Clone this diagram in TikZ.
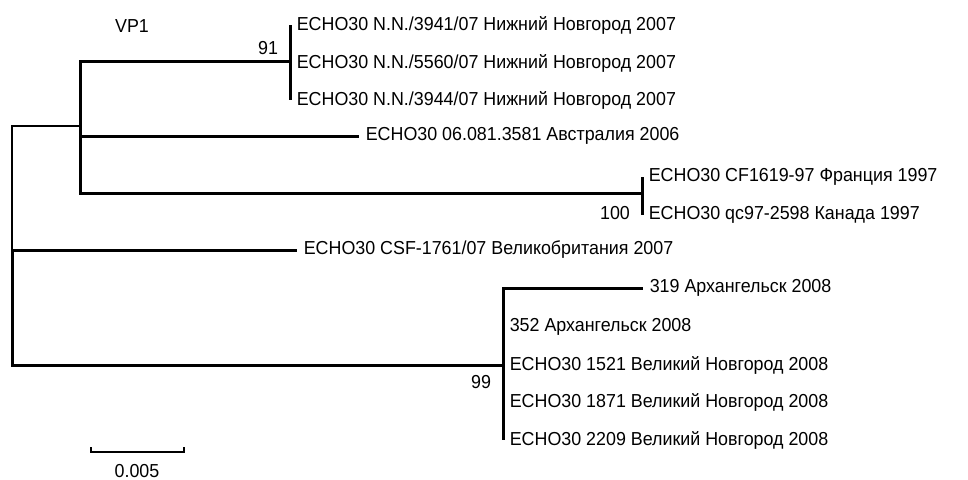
\documentclass[tikz,border=0pt]{standalone}
\usepackage{fontspec}
\setmainfont[FakeStretch=0.95]{Liberation Sans}
\usetikzlibrary{calc, positioning}

\begin{document}
\begin{tikzpicture}[% styles used in tree code
          x = 0.5pt, y = -0.5pt,
branch/.style = {draw, line width=1.5pt},
  twig/.style = {draw, line width=1pt},
  leaf/.style = {anchor=west, inner sep=3.2pt,
                 font=\fontsize{9.4pt}{10pt}\selectfont},
  boot/.style = {inner sep=0pt, font=\fontsize{9.4pt}{10pt}\selectfont},
                   ]
	\useasboundingbox (0,0) rectangle (968,479);

	% internal nodes of the tree
	\coordinate (root) at (12,250);
	\coordinate (clA)  at (80,126);
	\coordinate (clB)  at (290,61);
	\coordinate (clC)  at (642,193);
	\coordinate (clD)  at (503,365);

	% leaves
	\node[leaf] (b1)  at (290,25)  {ECHO30 N.N./3941/07 Нижний Новгород 2007};
	\node[leaf] (b2)  at (290,63)  {ECHO30 N.N./5560/07 Нижний Новгород 2007};
	\node[leaf] (b3)  at (290,100) {ECHO30 N.N./3944/07 Нижний Новгород 2007};
	\node[leaf] (aus) at (359,136) {ECHO30 06.081.3581 Австралия 2006};
	\node[leaf] (c1)  at (642,177) {ECHO30 CF1619-97 Франция 1997};
	\node[leaf] (c2)  at (642,215) {ECHO30 qc97-2598 Канада 1997};
	\node[leaf] (uk)  at (297,250) {ECHO30 CSF-1761/07 Великобритания 2007};
	\node[leaf] (d1)  at (643,288) {319 Архангельск 2008};
	\node[leaf] (d2)  at (503,327) {352 Архангельск 2008};
	\node[leaf] (d3)  at (503,365) {ECHO30 1521 Великий Новгород 2008};
	\node[leaf] (d4)  at (503,402) {ECHO30 1871 Великий Новгород 2008};
	\node[leaf] (d5)  at (503,440) {ECHO30 2209 Великий Новгород 2008};

	% branches
	\draw[twig]   (root) |- (clA);
	\draw[branch] (root) |- (clD);
	\draw[branch] (root) -- (uk.west);
	\draw[branch] (clA) |- (clB);
	\draw[branch] (clA) |- (aus.west);
	\draw[branch] (clA) |- (clC);
	\draw[branch] (b1.west) -- (b3.west);
	\draw[branch] (c1.west) -- (c2.west);
	\draw[branch] (clD) |- (d1.west);
	\draw[branch] (clD) -- (d5.west);

	% bootstrap values
	\node[boot] (bs91)  at ($(clB)+(-22,-13)$) {91};
	\node[boot] (bs100) at ($(clC)+(-27,20)$)  {100};
	\node[boot] (bs99)  at ($(clD)+(-22,17)$)  {99};

	% title and scale bar
	\node[boot] (title) at (132,26) {VP1};
	\coordinate (sL) at (91,452);
	\coordinate (sR) at (184,452);
	\draw[line width=0.6pt] ($(sL)+(0,-5)$) -- (sL) -- (sR) -- ($(sR)+(0,-5)$);
	\node[boot] (scale) at (137,471) {0.005};
\end{tikzpicture}
\end{document}
